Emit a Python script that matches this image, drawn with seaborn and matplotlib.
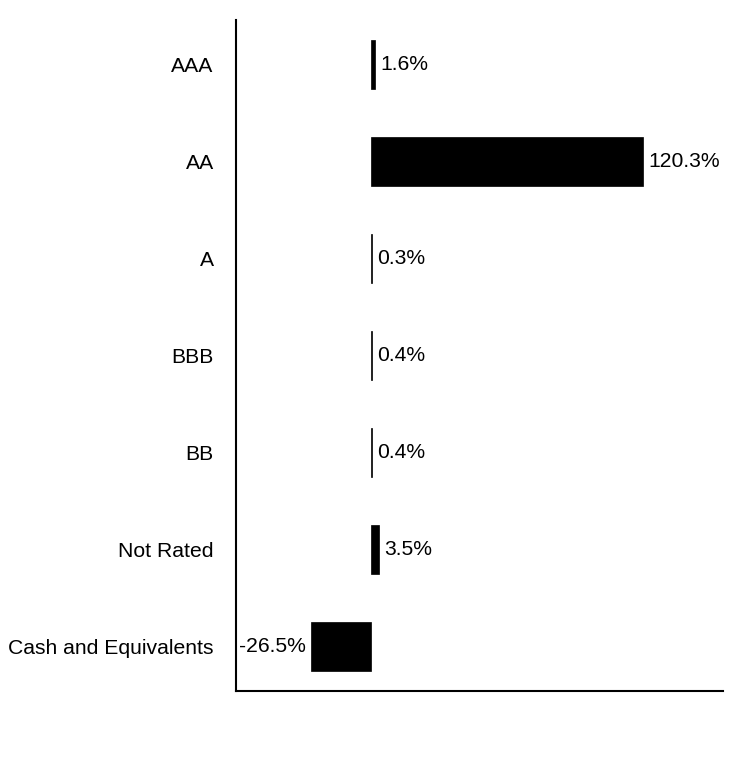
import matplotlib
matplotlib.use("Agg")
import matplotlib.pyplot as plt
import seaborn as sns
import pandas as pd

# Credit quality allocation (% of net assets)
ratings = ["AAA", "AA", "A", "BBB", "BB", "Not Rated", "Cash and Equivalents"]
weights = [1.6, 120.3, 0.3, 0.4, 0.4, 3.5, -26.5]
labels = ["1.6%", "120.3%", "0.3%", "0.4%", "0.4%", "3.5%", "-26.5%"]

sns.set_theme(style="white")
plt.rcParams["font.family"] = ["Liberation Sans", "DejaVu Sans"]

df = pd.DataFrame({"Rating": ratings, "Weight": weights})

fig = plt.figure(figsize=(7.44, 7.80), dpi=100)
ax = fig.add_axes([236 / 744, 1 - 691 / 780, (723 - 236) / 744, (691 - 20) / 780])

sns.barplot(
    data=df,
    x="Weight",
    y="Rating",
    orient="h",
    color="black",
    saturation=1,
    width=0.5,
    edgecolor="black",
    linewidth=0.5,
    ax=ax
)

# Value labels
ax.bar_label(ax.containers[0], labels=labels, padding=4, fontsize=15.2, color="black")

ax.set_xlim(-59.7, 155.7)
ax.set_ylim(6.46, -0.46)

ax.set_xlabel("")
ax.set_ylabel("")
ax.set_xticks([])
ax.tick_params(axis="y", length=0, pad=16, labelsize=15.2, labelcolor="black")

for side in ["top", "right"]:
    ax.spines[side].set_visible(False)
for side in ["left", "bottom"]:
    ax.spines[side].set_color("black")
    ax.spines[side].set_linewidth(1.5)

fig.savefig("out.png", dpi=100, facecolor="white")
